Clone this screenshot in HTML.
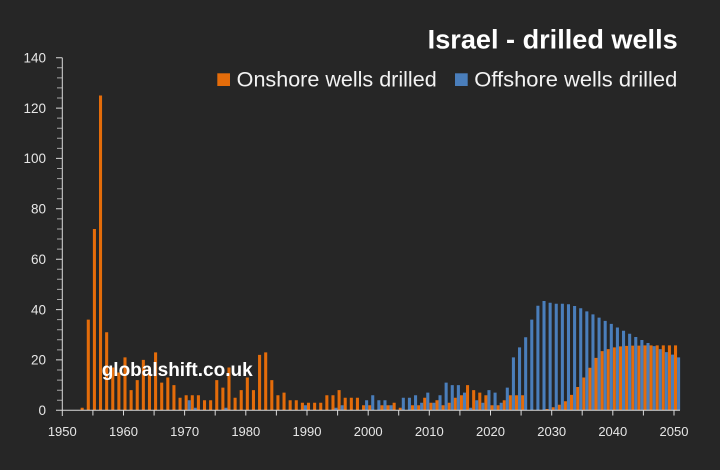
<!DOCTYPE html>
<html>
<head>
<meta charset="utf-8">
<style>
html,body{margin:0;padding:0;background:#262626;}
svg{display:block;}
text{font-family:"Liberation Sans",Arial,sans-serif;}
</style>
</head>
<body>
<svg width="720" height="470" viewBox="0 0 720 470" xmlns="http://www.w3.org/2000/svg">
<rect width="720" height="470" fill="#262626"/>
<g transform="translate(62.3,410.3) scale(6.117,-2.5186)">
<path fill="#E46C0A" d="M3 0h.5v1h-.5zM4 0h.5v36h-.5zM5 0h.5v72h-.5zM6 0h.5v125h-.5zM7 0h.5v31h-.5zM8 0h.5v17h-.5zM9 0h.5v15h-.5zM10 0h.5v21h-.5zM11 0h.5v8h-.5zM12 0h.5v12h-.5zM13 0h.5v20h-.5zM14 0h.5v17h-.5zM15 0h.5v23h-.5zM16 0h.5v11h-.5zM17 0h.5v13h-.5zM18 0h.5v10h-.5zM19 0h.5v5h-.5zM20 0h.5v6h-.5zM21 0h.5v6h-.5zM22 0h.5v6h-.5zM23 0h.5v4h-.5zM24 0h.5v4h-.5zM25 0h.5v12h-.5zM26 0h.5v9h-.5zM27 0h.5v17h-.5zM28 0h.5v5h-.5zM29 0h.5v8h-.5zM30 0h.5v13h-.5zM31 0h.5v8h-.5zM32 0h.5v22h-.5zM33 0h.5v23h-.5zM34 0h.5v12h-.5zM35 0h.5v6h-.5zM36 0h.5v7h-.5zM37 0h.5v4h-.5zM38 0h.5v4h-.5zM39 0h.5v3h-.5zM40 0h.5v3h-.5zM41 0h.5v3h-.5zM42 0h.5v3h-.5zM43 0h.5v6h-.5zM44 0h.5v6h-.5zM45 0h.5v8h-.5zM46 0h.5v5h-.5zM47 0h.5v5h-.5zM48 0h.5v5h-.5zM49 0h.5v2h-.5zM50 0h.5v2h-.5zM52 0h.5v2h-.5zM53 0h.5v2h-.5zM54 0h.5v3h-.5zM55 0h.5v1h-.5zM57 0h.5v2h-.5zM58 0h.5v2h-.5zM59 0h.5v5h-.5zM60 0h.5v3h-.5zM61 0h.5v4h-.5zM62 0h.5v2h-.5zM63 0h.5v3h-.5zM64 0h.5v5h-.5zM65 0h.5v6h-.5zM66 0h.5v10h-.5zM67 0h.5v8h-.5zM68 0h.5v7h-.5zM69 0h.5v6h-.5zM70 0h.5v2h-.5zM71 0h.5v2h-.5zM72 0h.5v4h-.5zM73 0h.5v6h-.5zM74 0h.5v6h-.5zM75 0h.5v6h-.5zM79 0h.5v.5h-.5zM80 0h.5v1.2h-.5zM81 0h.5v2.2h-.5zM82 0h.5v3.6h-.5zM83 0h.5v6.1h-.5zM84 0h.5v9.25h-.5zM85 0h.5v13h-.5zM86 0h.5v16.9h-.5zM87 0h.5v20.8h-.5zM88 0h.5v23.5h-.5zM89 0h.5v24.3h-.5zM90 0h.5v25h-.5zM91 0h.5v25.4h-.5zM92 0h.5v25.6h-.5zM93 0h.5v25.7h-.5zM94 0h.5v25.7h-.5zM95 0h.5v25.8h-.5zM96 0h.5v25.8h-.5zM97 0h.5v25.8h-.5zM98 0h.5v25.8h-.5zM99 0h.5v25.8h-.5zM100 0h.5v25.8h-.5z"/>
<path fill="#4A7EBB" d="M20.5 0h.5v4h-.5zM21.5 0h.5v1h-.5zM26.5 0h.5v1h-.5zM39.5 0h.5v2h-.5zM44.5 0h.5v1h-.5zM45.5 0h.5v2h-.5zM49.5 0h.5v4h-.5zM50.5 0h.5v6h-.5zM51.5 0h.5v4h-.5zM52.5 0h.5v4h-.5zM53.5 0h.5v2h-.5zM55.5 0h.5v5h-.5zM56.5 0h.5v5h-.5zM57.5 0h.5v6h-.5zM58.5 0h.5v3h-.5zM59.5 0h.5v7h-.5zM60.5 0h.5v3h-.5zM61.5 0h.5v6h-.5zM62.5 0h.5v11h-.5zM63.5 0h.5v10h-.5zM64.5 0h.5v10h-.5zM65.5 0h.5v7h-.5zM66.5 0h.5v1h-.5zM67.5 0h.5v4h-.5zM68.5 0h.5v3h-.5zM69.5 0h.5v8h-.5zM70.5 0h.5v7h-.5zM71.5 0h.5v3h-.5zM72.5 0h.5v9h-.5zM73.5 0h.5v21h-.5zM74.5 0h.5v25h-.5zM75.5 0h.5v29h-.5zM76.5 0h.5v36h-.5zM77.5 0h.5v41.5h-.5zM78.5 0h.5v43.4h-.5zM79.5 0h.5v42.7h-.5zM80.5 0h.5v42.3h-.5zM81.5 0h.5v42.3h-.5zM82.5 0h.5v42.1h-.5zM83.5 0h.5v41.4h-.5zM84.5 0h.5v40.5h-.5zM85.5 0h.5v39.3h-.5zM86.5 0h.5v38.1h-.5zM87.5 0h.5v36.8h-.5zM88.5 0h.5v35.5h-.5zM89.5 0h.5v34.3h-.5zM90.5 0h.5v32.9h-.5zM91.5 0h.5v31.6h-.5zM92.5 0h.5v30.4h-.5zM93.5 0h.5v29.1h-.5zM94.5 0h.5v27.9h-.5zM95.5 0h.5v26.7h-.5zM96.5 0h.5v25.5h-.5zM97.5 0h.5v24.3h-.5zM98.5 0h.5v23.1h-.5zM99.5 0h.5v22.1h-.5zM100.5 0h.5v21h-.5z"/>
</g>
<path stroke="#a6a6a6" stroke-width="1" fill="none" d="M57 400.2H62.3M57 390.2H62.3M57 380.1H62.3M57 370H62.3M57 349.9H62.3M57 339.8H62.3M57 329.7H62.3M57 319.6H62.3M57 299.5H62.3M57 289.4H62.3M57 279.3H62.3M57 269.3H62.3M57 249.1H62.3M57 239H62.3M57 229H62.3M57 218.9H62.3M57 198.7H62.3M57 188.7H62.3M57 178.6H62.3M57 168.5H62.3M57 148.4H62.3M57 138.3H62.3M57 128.2H62.3M57 118.1H62.3M57 98H62.3M57 87.9H62.3M57 77.9H62.3M57 67.8H62.3"/>
<path stroke="#d9d9d9" stroke-width="1" fill="none" d="M56 410.3H62.3M56 359.9H62.3M56 309.6H62.3M56 259.2H62.3M56 208.8H62.3M56 158.4H62.3M56 108.1H62.3M56 57.7H62.3M62.3 57.7V416M62.3 410.3H680M92.9 410.3V415.5M123.5 410.3V415.5M154.1 410.3V415.5M184.6 410.3V415.5M215.2 410.3V415.5M245.8 410.3V415.5M276.4 410.3V415.5M307 410.3V415.5M337.6 410.3V415.5M368.2 410.3V415.5M398.7 410.3V415.5M429.3 410.3V415.5M459.9 410.3V415.5M490.5 410.3V415.5M521.1 410.3V415.5M551.7 410.3V415.5M582.2 410.3V415.5M612.8 410.3V415.5M643.4 410.3V415.5M674 410.3V415.5"/>
<g fill="#e6e6e6" font-size="13.5" text-anchor="end">
<text x="46" y="415">0</text>
<text x="46" y="364.6">20</text>
<text x="46" y="314.3">40</text>
<text x="46" y="263.9">60</text>
<text x="46" y="213.5">80</text>
<text x="46" y="163.1">100</text>
<text x="46" y="112.8">120</text>
<text x="46" y="62.4">140</text>
</g>
<g fill="#e6e6e6" font-size="13" text-anchor="middle">
<text x="62.3" y="436">1950</text>
<text x="123.5" y="436">1960</text>
<text x="184.6" y="436">1970</text>
<text x="245.8" y="436">1980</text>
<text x="307" y="436">1990</text>
<text x="368.2" y="436">2000</text>
<text x="429.3" y="436">2010</text>
<text x="490.5" y="436">2020</text>
<text x="551.7" y="436">2030</text>
<text x="612.8" y="436">2040</text>
<text x="674" y="436">2050</text>
</g>
<text x="427.7" y="48.3" fill="#ffffff" font-size="27" font-weight="bold" textLength="250" lengthAdjust="spacingAndGlyphs">Israel - drilled wells</text>
<rect x="217.3" y="73.3" width="12.7" height="12.7" fill="#E46C0A"/>
<text x="236.7" y="86.5" fill="#f2f2f2" font-size="21.5" textLength="200" lengthAdjust="spacingAndGlyphs">Onshore wells drilled</text>
<rect x="455" y="73.3" width="12.7" height="12.7" fill="#4A7EBB"/>
<text x="474.3" y="86.5" fill="#f2f2f2" font-size="21.5" textLength="203" lengthAdjust="spacingAndGlyphs">Offshore wells drilled</text>
<text x="101.7" y="376" fill="#ffffff" font-size="19" font-weight="bold">globalshift.co.uk</text>
</svg>
</body>
</html>
